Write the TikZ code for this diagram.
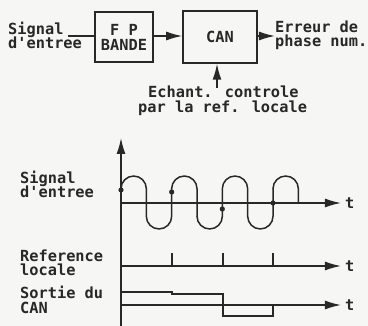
\documentclass[tikz,border=0pt]{standalone}
\usepackage{fontspec}
\newfontfamily\plotfont{DejaVu Sans Mono Bold}
\usetikzlibrary{arrows.meta}
\definecolor{ink}{RGB}{40,40,40}
\definecolor{paper}{RGB}{246,246,244}
\tikzset{
  txt/.style={inner sep=0pt, anchor=base west, text=ink, font=\plotfont\fontsize{15.3}{15}\selectfont},
  boxnode/.style={draw=ink, line width=1.5pt, inner sep=0pt, text=ink, align=center, font=\plotfont\fontsize{15.3}{15}\selectfont},
  ln/.style={draw=ink, line width=1.5pt},
  arr/.style={ln, -{Latex[length=16pt,width=9pt]}},
  dotmark/.style={fill=ink}
}
\begin{document}
\begin{tikzpicture}[x=1pt,y=-1pt]
\fill[paper] (0,0) rectangle (368,326);
\useasboundingbox (0,0) rectangle (368,326);
% ---------- block diagram ----------
\node[txt] (s1) at (8,35) {Signal};
\node[txt] (s2) at (8,49) {d'entree};
\node[boxnode, minimum width=58pt, minimum height=50pt] (fp) at (124,37) {F P\\BANDE};
\node[boxnode, minimum width=74pt, minimum height=52pt] (can) at (220,37) {CAN};
\coordinate (in) at (68,36);
\coordinate (out) at (275,36);
\coordinate (ech) at (217,88);
\draw[ln] (in) -- (in -| fp.west);
\draw[arr] (fp.east |- in) -- (can.west |- in);
\draw[arr] (can.east |- out) -- (out);
\draw[arr] (ech) -- (ech |- can.south);
\node[txt] (e1) at (275,33) {Erreur de};
\node[txt] (e2) at (275,47) {phase num.};
\node[txt] (c1) at (148,98) {Echant. controle};
\node[txt] (c2) at (138,113) {par la ref. locale};
% ---------- timing diagram ----------
\coordinate (a0) at (121,326);
\coordinate (a1) at (121,138);
\draw[arr] (a0) -- (a1);
\coordinate (t1s) at (121,203);
\coordinate (t1e) at (341,203);
\coordinate (t2s) at (121,266);
\coordinate (t2e) at (341,266);
\coordinate (t3s) at (121,305);
\coordinate (t3e) at (341,305);
\draw[arr] (t1s) -- (t1e);
\draw[arr] (t2s) -- (t2e);
\draw[arr] (t3s) -- (t3e);
\node[txt, anchor=west] (tt1) at (345,203) {t};
\node[txt, anchor=west] (tt2) at (345,266) {t};
\node[txt, anchor=west] (tt3) at (345,305) {t};
% labels
\node[txt] (l1) at (20,184) {Signal};
\node[txt] (l2) at (20,198) {d'entree};
\node[txt] (l3) at (20,262) {Reference};
\node[txt] (l4) at (20,276) {locale};
\node[txt] (l5) at (20,299) {Sortie du};
\node[txt] (l6) at (20,314) {CAN};
% wave
\draw[ln, line join=round]
  (121,188.7) arc[start angle=180,end angle=0,radius=12.67pt]
  -- (146.33,216.3) arc[start angle=180,end angle=360,radius=12.67pt]
  -- (171.67,188.7) arc[start angle=180,end angle=0,radius=12.67pt]
  -- (197,216.3) arc[start angle=180,end angle=360,radius=12.67pt]
  -- (222.33,188.7) arc[start angle=180,end angle=0,radius=12.67pt]
  -- (247.67,216.3) arc[start angle=180,end angle=360,radius=12.67pt]
  -- (273,188.7) arc[start angle=180,end angle=0,radius=12.67pt]
  -- (298.33,203);
\fill[dotmark] (121,190) circle[radius=2.6pt];
\fill[dotmark] (171.67,192) circle[radius=2.6pt];
\fill[dotmark] (222.33,209) circle[radius=2.6pt];
\fill[dotmark] (273,203) circle[radius=2.6pt];
% reference ticks
\draw[ln] (172,266) -- (172,253);
\draw[ln] (223,266) -- (223,253);
\draw[ln] (273,266) -- (273,253);
% CAN output staircase
\draw[ln] (121,292) -- (172,292) -- (172,294) -- (223,294) -- (223,316) -- (273,316) -- (273,305);
\end{tikzpicture}
\end{document}
